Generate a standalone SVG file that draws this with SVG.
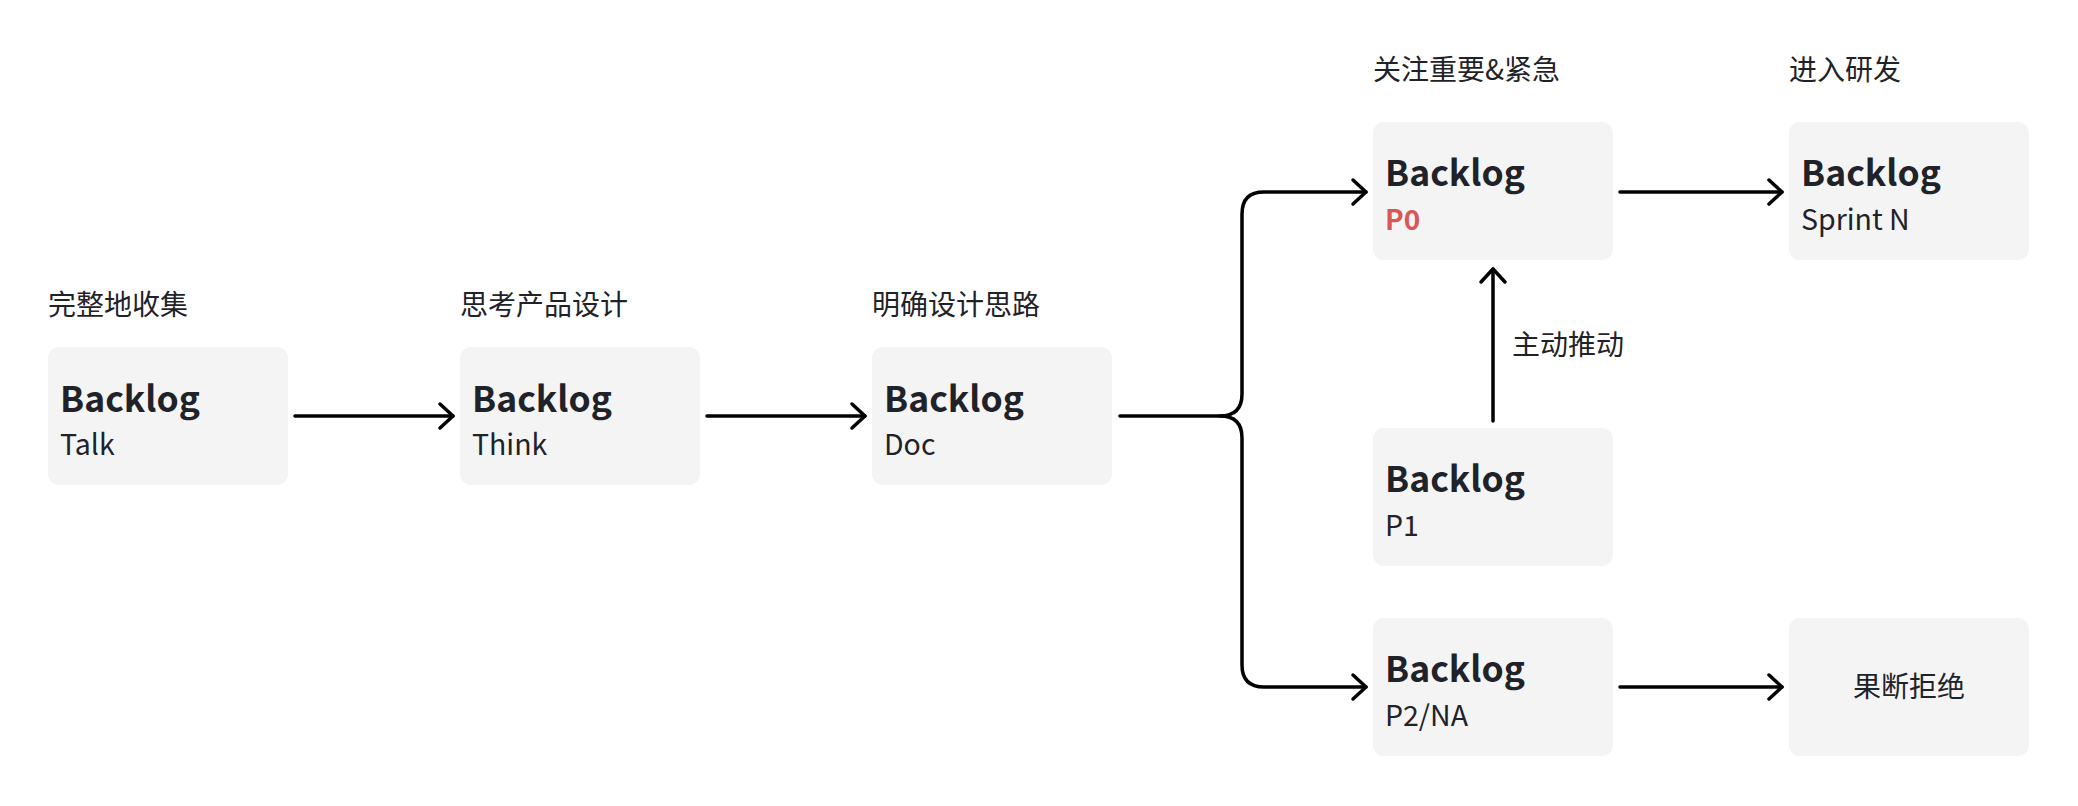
<svg xmlns="http://www.w3.org/2000/svg" width="2078" height="806" viewBox="0 0 2078 806">
<style>
  text { font-family: "Noto Sans CJK SC", "Noto Sans", sans-serif; fill: #1f2329; }
  .box { fill: #f4f4f4; }
  .title { font-size: 35.5px; font-weight: 700; }
  .sub { font-size: 28.5px; font-weight: 400; }
  .red { fill: #d95757; font-weight: 700; font-size: 28px; }
  .label { font-size: 28px; font-weight: 400; }
  .conn { fill: none; stroke: #000; stroke-width: 3.5; stroke-linecap: round; stroke-linejoin: round; }
</style>
<defs>
  <marker id="arrow" viewBox="0 0 20 30" refX="16" refY="15" markerWidth="20" markerHeight="30" markerUnits="userSpaceOnUse" orient="auto">
    <path d="M3,3 L16,15 L3,27" fill="none" stroke="#000" stroke-width="3.5" stroke-linecap="round" stroke-linejoin="round"/>
  </marker>
</defs>
<rect width="2078" height="806" fill="#fff"/>

<g id="talk">
  <text class="label" x="48" y="315">完整地收集</text>
  <rect class="box" x="48" y="347" width="240" height="138" rx="11"/>
  <text class="title" x="60" y="412">Backlog</text>
  <text class="sub" x="60" y="455">Talk</text>
</g>
<g id="think">
  <text class="label" x="460" y="315">思考产品设计</text>
  <rect class="box" x="460" y="347" width="240" height="138" rx="11"/>
  <text class="title" x="472" y="412">Backlog</text>
  <text class="sub" x="472" y="455">Think</text>
</g>
<g id="doc">
  <text class="label" x="872" y="315">明确设计思路</text>
  <rect class="box" x="872" y="347" width="240" height="138" rx="11"/>
  <text class="title" x="884" y="412">Backlog</text>
  <text class="sub" x="884" y="455">Doc</text>
</g>
<g id="p0">
  <text class="label" x="1373" y="80">关注重要&amp;紧急</text>
  <rect class="box" x="1373" y="122" width="240" height="138" rx="11"/>
  <text class="title" x="1385" y="186">Backlog</text>
  <text class="sub red" x="1385" y="230">P0</text>
</g>
<g id="sprint">
  <text class="label" x="1789" y="80">进入研发</text>
  <rect class="box" x="1789" y="122" width="240" height="138" rx="11"/>
  <text class="title" x="1801" y="186">Backlog</text>
  <text class="sub" x="1801" y="230">Sprint N</text>
</g>
<g id="p1">
  <rect class="box" x="1373" y="428" width="240" height="138" rx="11"/>
  <text class="title" x="1385" y="492">Backlog</text>
  <text class="sub" x="1385" y="536">P1</text>
</g>
<g id="p2">
  <rect class="box" x="1373" y="618" width="240" height="138" rx="11"/>
  <text class="title" x="1385" y="682">Backlog</text>
  <text class="sub" x="1385" y="726">P2/NA</text>
</g>
<g id="reject">
  <rect class="box" x="1789" y="618" width="240" height="138" rx="11"/>
  <text class="label" x="1909" y="697" text-anchor="middle">果断拒绝</text>
</g>

<g id="connectors">
  <path class="conn" d="M295,416 H453" marker-end="url(#arrow)"/>
  <path class="conn" d="M707,416 H865" marker-end="url(#arrow)"/>
  <path class="conn" d="M1120,416 H1220 Q1242,416 1242,394 V214 Q1242,192 1264,192 H1366" marker-end="url(#arrow)"/>
  <path class="conn" d="M1220,416 Q1242,416 1242,438 V665 Q1242,687 1264,687 H1366" marker-end="url(#arrow)"/>
  <path class="conn" d="M1620,192 H1782" marker-end="url(#arrow)"/>
  <path class="conn" d="M1620,687 H1782" marker-end="url(#arrow)"/>
  <path class="conn" d="M1493,421 V269" marker-end="url(#arrow)"/>
  <text class="label" x="1512" y="355">主动推动</text>
</g>
</svg>
